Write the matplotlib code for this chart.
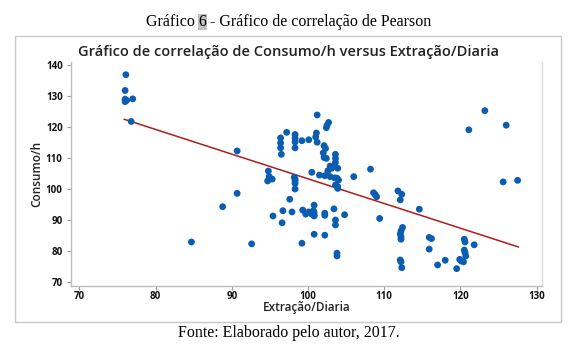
import matplotlib
matplotlib.use("Agg")
import matplotlib.pyplot as plt
from matplotlib.patches import Rectangle

# ---- data ----
extracao = [76.1, 76.0, 76.0, 76.0, 76.2, 77.0, 76.8, 84.7, 88.8, 90.7, 90.7, 92.6,
            94.8, 94.9, 94.7, 95.3, 95.4, 96.4, 96.4, 96.4, 96.5, 96.7, 96.6, 97.2,
            97.6, 97.9, 98.3, 98.3, 98.3, 98.3, 98.2, 98.3, 98.3, 98.3, 98.3, 99.2,
            99.3, 99.7, 99.2, 100.1, 100.1, 100.5, 100.8, 100.7, 100.8, 100.8, 100.5,
            100.8, 100.8, 101.0, 101.1, 101.2, 101.2, 101.5, 102.0, 102.1, 102.1,
            102.2, 102.2, 102.2, 102.2, 102.3, 102.4, 102.4, 102.5, 102.6, 102.7,
            102.9, 102.9, 103.1, 103.4, 103.5, 103.5, 103.6, 103.6, 103.6, 103.6,
            103.6, 103.6, 103.8, 103.8, 103.8, 103.9, 103.9, 104.0, 103.9, 104.8,
            106.0, 108.2, 108.6, 108.8, 109.0, 109.4, 111.8, 112.3, 112.1, 112.4,
            112.2, 112.1, 112.2, 112.2, 112.1, 112.2, 112.3, 114.6, 115.9, 116.2,
            115.9, 117.0, 118.0, 119.5, 119.9, 120.1, 120.4, 120.5, 120.6, 120.5,
            120.6, 120.7, 121.1, 121.8, 123.2, 125.6, 126.0, 127.5]
consumo = [136.9, 131.8, 129.0, 128.2, 128.6, 129.1, 121.8, 82.9, 94.3, 112.3, 98.6, 82.3,
           105.8, 104.0, 102.6, 103.2, 91.3, 116.5, 114.9, 113.3, 111.2, 93.0, 89.1, 118.3,
           96.7, 92.6, 117.6, 116.4, 115.2, 113.3, 103.8, 103.2, 102.6, 101.8, 100.0, 115.6,
           93.2, 91.9, 82.5, 115.9, 92.6, 105.4, 94.8, 93.0, 92.4, 91.6, 91.9,
           91.3, 85.4, 116.8, 118.1, 115.1, 123.9, 104.5, 111.7, 114.0, 110.2,
           104.3, 92.2, 91.5, 85.1, 113.1, 109.9, 119.8, 120.6, 105.9, 121.5,
           107.4, 104.0, 106.7, 93.6, 107.4, 103.6, 111.2, 109.9, 108.6, 101.3,
           90.0, 88.4, 103.5, 79.3, 78.4, 106.7, 100.2, 102.9, 100.8, 91.7,
           104.0, 106.4, 98.8, 98.2, 97.5, 90.5, 99.4, 98.3, 96.5, 87.6,
           86.5, 85.5, 84.6, 83.8, 77.1, 76.5, 74.6, 93.5, 84.4, 84.0,
           80.6, 75.5, 77.0, 74.3, 77.3, 76.8, 76.5, 83.8, 82.9, 80.3,
           79.5, 78.4, 119.1, 82.0, 125.3, 102.3, 120.6, 102.8]
fit_x = [75.9, 127.6]
fit_y = [122.5, 81.3]
xticks = [70, 80, 90, 100, 110, 120, 130]
yticks = [70, 80, 90, 100, 110, 120, 130, 140]

W, H = 577, 354
fig = plt.figure(figsize=(W / 100, H / 100), dpi=100)
fig.patch.set_facecolor("white")

def fx(px):
    return px / W

def fy(py):
    return 1 - py / H

# outer chart frame
fig.patches.append(Rectangle((fx(15), fy(322)), fx(561) - fx(15), fy(36) - fy(322),
                             transform=fig.transFigure, facecolor="none",
                             edgecolor="#c8c8c8", lw=1.0, zorder=-1))

# caption above (with highlighted "6")
serif = "Liberation Serif"
fs_cap = 11.5
renderer = fig.canvas.get_renderer()
parts = ["Gráfico ", "6", " - Gráfico de correlação de Pearson"]
tmp = [fig.text(0, 0, p, fontsize=fs_cap, family=serif) for p in parts]
widths = [t.get_window_extent(renderer).width for t in tmp]
for t in tmp:
    t.remove()
total = sum(widths)
xs = W / 2 - total / 2
ycap = 22
for i, p in enumerate(parts):
    fig.text(fx(xs), fy(ycap), p, fontsize=fs_cap, family=serif,
             ha="left", va="center", color="black", zorder=2)
    if i == 1:
        fig.patches.append(Rectangle((fx(xs - 0.5), fy(ycap + 8)), (widths[i] + 1) / W, 16 / H,
                                     transform=fig.transFigure, facecolor="#c0c0c0",
                                     edgecolor="none", zorder=-1))
    xs += widths[i]

# chart title
fig.text(0.5, fy(52), "Gráfico de correlação de Consumo/h versus Extração/Diaria",
         fontsize=10.5, family="Open Sans", weight="semibold", color="#222222",
         ha="center", va="center")

# axes
ax = fig.add_axes([fx(71), fy(286), fx(542) - fx(71), fy(62) - fy(286)])
ax.set_facecolor("none")
ax.scatter(extracao, consumo, s=24, color="#0a5db0", edgecolor="none", zorder=3)
ax.plot(fit_x, fit_y, color="#b01c1c", lw=1.1, zorder=2)

ax.set_xlim(68.9, 130.7)
ax.set_ylim(68.7, 141.0)
ax.set_xticks(xticks)
ax.set_yticks(yticks)
ax.set_xticklabels([str(v) for v in xticks])
ax.set_yticklabels([str(v) for v in yticks])

ax.spines["top"].set_visible(False)
ax.spines["left"].set_color("#bdbdbd")
ax.spines["bottom"].set_color("#bdbdbd")
ax.spines["right"].set_color("#dcdcdc")
for s in ["left", "bottom", "right"]:
    ax.spines[s].set_linewidth(1.0)
ax.tick_params(axis="both", direction="out", length=3, width=0.8, color="#9a9a9a",
               labelsize=7, labelcolor="#111111")
ax.tick_params(axis="x", pad=0.5)
ax.tick_params(axis="y", right=False, pad=3)
for lab in ax.get_xticklabels() + ax.get_yticklabels():
    lab.set_family("Open Sans")
    lab.set_weight("bold")

ax.set_xlabel("Extração/Diaria", fontsize=8.5, family="Open Sans", weight="semibold",
              color="#222222", va="center")
ax.xaxis.set_label_coords(0.5, -(308 - 286) / 224)
ax.set_ylabel("Consumo/h", fontsize=8.5, family="Open Sans", weight="semibold",
              color="#222222", va="center")
ax.yaxis.set_label_coords(-(71 - 37) / 471, 0.5)

# caption below
fig.text(0.5, fy(333), "Fonte: Elaborado pelo autor, 2017.", fontsize=11.5, family=serif,
         ha="center", va="center", color="black")

fig.savefig("out.png", dpi=100, facecolor="white")
